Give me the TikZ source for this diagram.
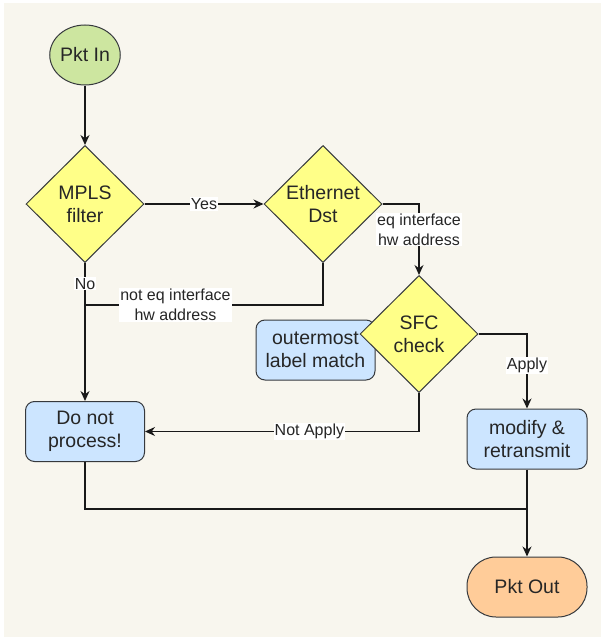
\documentclass[tikz,border=0pt]{standalone}
\usepackage{fontspec}
\setmainfont{Liberation Sans}
\usetikzlibrary{shapes.geometric,arrows.meta}
\definecolor{bgc}{HTML}{F8F6EE}
\definecolor{grn}{HTML}{CDE6A0}
\definecolor{ylw}{HTML}{FFFF88}
\definecolor{blu}{HTML}{CCE5FF}
\definecolor{org}{HTML}{FFCC99}
\definecolor{brd}{HTML}{36393D}
\tikzset{
  base/.style={draw=brd, line width=1pt, align=center, text=black!85, font=\fontsize{19.5}{23}\selectfont, inner sep=0pt},
  dec/.style={base, diamond, aspect=1, fill=ylw, minimum width=118pt, minimum height=117pt},
  proc/.style={base, rectangle, rounded corners=9pt, fill=blu, minimum width=119pt, minimum height=60pt},
  term/.style={base, rectangle, rounded corners=29pt, fill=org, minimum width=120pt, minimum height=60pt},
  startn/.style={base, ellipse, fill=grn, minimum width=59pt, minimum height=60pt},
  conn/.style={draw=black!90, line width=1.3pt},
  arr/.style={conn, -{Stealth[length=10pt,width=9pt]}},
  lbl/.style={fill=white, inner sep=1pt, align=center, text=black!85, font=\fontsize{16}{19.5}\selectfont},
}
\begin{document}
\begin{tikzpicture}[x=1pt,y=-1pt]
\useasboundingbox (0,0) rectangle (604,637);
\fill[white] (0,0) rectangle (604,637);
\fill[bgc] (4,3) rectangle (601,637);

\node[startn] (pin) at (85,55) {Pkt In};
\node[dec] (mpls) at (85,204) {MPLS\\filter};
\node[dec] (eth) at (323,204) {Ethernet\\Dst};
\node[proc] (olm) at (315.5,350) {outermost\\label match};
\node[dec] (sfc) at (419,334) {SFC\\check};
\node[proc] (dnp) at (85,431.5) {Do not\\process!};
\node[proc, minimum width=120pt] (mod) at (527,439) {modify \&\\retransmit};
\node[term] (pout) at (527,587) {Pkt Out};

\coordinate (j1) at (85,305);
\coordinate (j2) at (527,509);

\draw[arr] (pin.south) -- (mpls.north);
\draw[arr] (mpls.east) -- node[lbl]{Yes} (eth.west);
\draw[arr] (eth.east) -| node[lbl, pos=0.68]{eq interface\\hw address} (sfc.north);
\draw[conn] (eth.south) |- node[lbl, pos=0.81]{not eq interface\\hw address} (j1);
\draw[arr] (mpls.south) -- node[lbl, pos=0.15]{No} (dnp.north);
\draw[arr] (sfc.east) -| node[lbl, pos=0.71]{Apply} (mod.north);
\draw[arr] (sfc.south) |- node[lbl, pos=0.70]{Not Apply} (dnp.east);
\draw[conn] (dnp.south) |- (j2);
\draw[arr] (mod.south) -- (pout.north);
\end{tikzpicture}
\end{document}
